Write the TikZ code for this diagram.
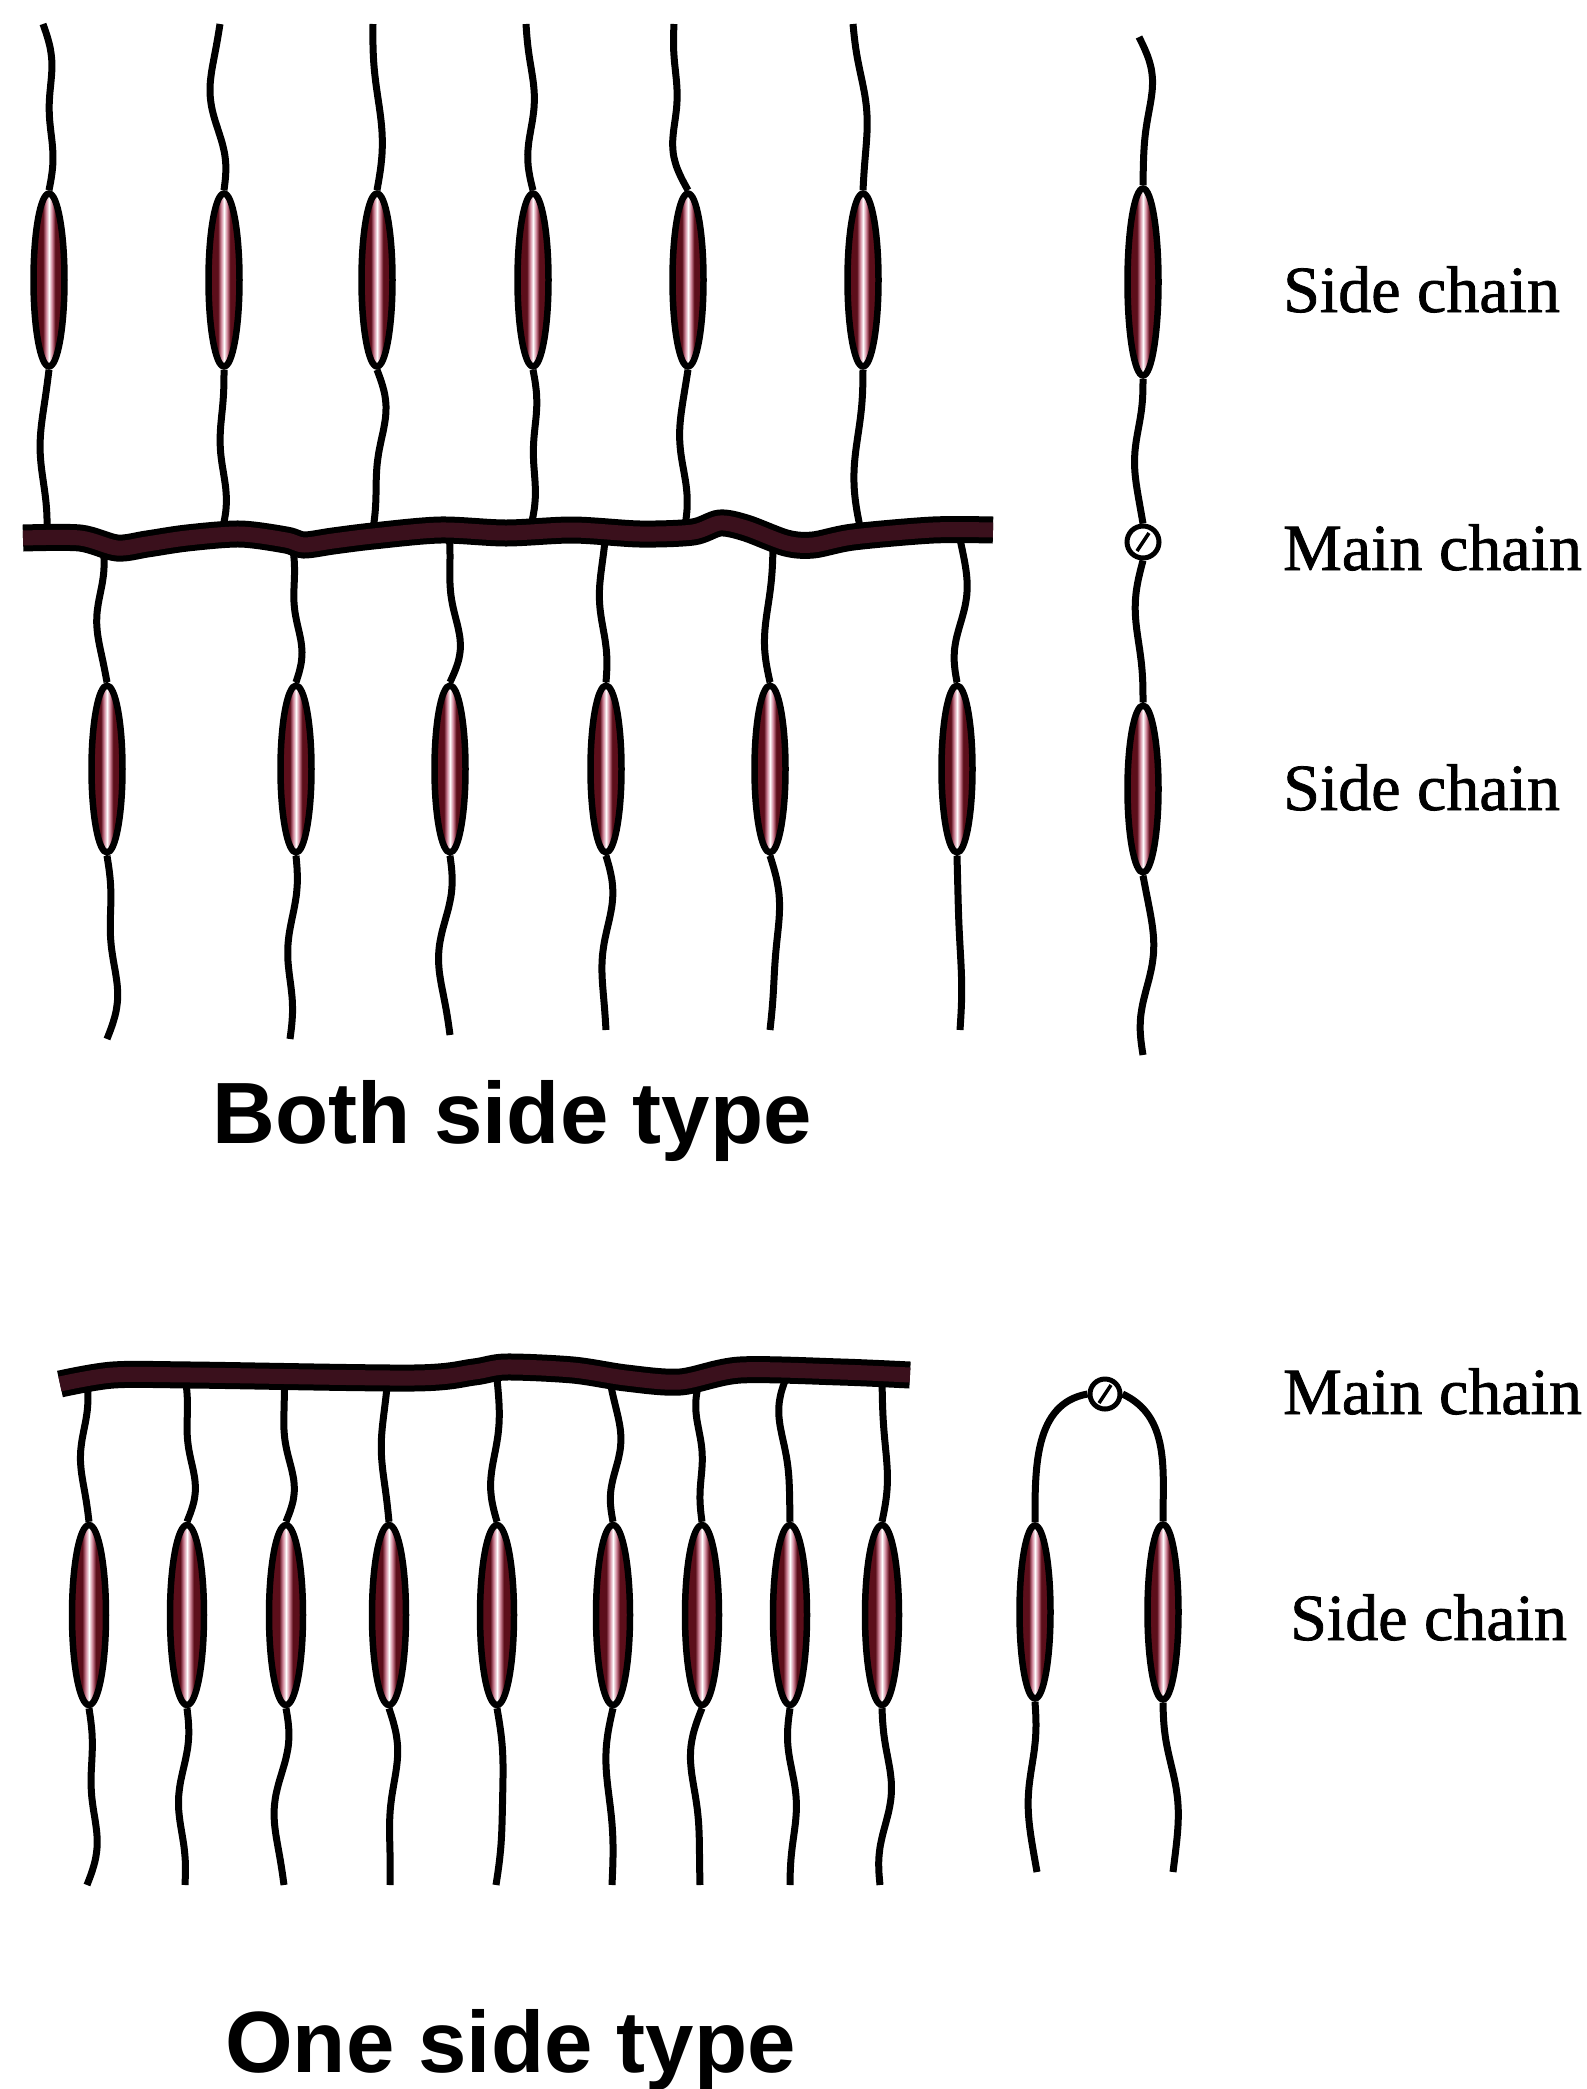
\documentclass[tikz,border=0pt]{standalone}
\usepackage{fontspec}
\setmainfont{Liberation Serif}
\newfontfamily\legendfont{Liberation Serif}[FakeBold=1.2]
\newfontfamily\headfont{Liberation Sans}
\usetikzlibrary{shapes.geometric,calc}
\definecolor{meso}{RGB}{92,14,26}
\definecolor{mesolight}{RGB}{205,130,150}
\definecolor{backbone}{RGB}{58,16,28}
% dark red rod with a bright streak along its axis
\pgfdeclarehorizontalshading{mesoshade}{100bp}{
  color(0bp)=(black); color(30bp)=(meso); color(40bp)=(meso);
  color(45bp)=(mesolight); color(50bp)=(white); color(55bp)=(mesolight);
  color(60bp)=(meso); color(70bp)=(meso); color(100bp)=(black)}
\begin{document}
\begin{tikzpicture}[x=1pt,y=-1pt,
  chain/.style={line width=7pt, draw=black, line cap=butt, line join=round},
  wig/.style n args={3}{to path={let \p1=(\tikztostart), \p2=(\tikztotarget) in
      plot[smooth, domain=0:1, samples=15, variable=\t]
      ({\x1+(\x2-\x1)*\t+(#1)*sin(180*\t)+(#2)*sin(360*\t)+(#3)*sin(540*\t)},
       {\y1+(\y2-\y1)*\t})}},
  mesogen/.style={ellipse, draw=black, line width=6.5pt, inner sep=0pt,
      minimum width=31pt, minimum height=#1, shading=mesoshade},
  joint/.style={circle, draw=black, line width=5pt, fill=white, inner sep=0pt,
      minimum size=32pt,
      path picture={\draw[line width=3.5pt]
        ([xshift=-6pt,yshift=-9pt]path picture bounding box.center) --
        ([xshift=6pt,yshift=9pt]path picture bounding box.center);}},
  backbonestyle/.style={line width=15pt, draw=backbone, line cap=butt, line join=round,
      preaction={draw=black, line width=27pt}},
  legendtext/.style={anchor=base west, inner sep=0pt, font=\legendfont\fontsize{66}{70}\selectfont},
  heading/.style={anchor=base west, inner sep=0pt, font=\headfont\bfseries\fontsize{87}{90}\selectfont},
]
\useasboundingbox (0,0) rectangle (1587,2089);

% ---------- both side type: side chains above the backbone ----------
\foreach \cx/\tx/\ax/\ay [count=\k] in
   {49/43/47/538, 224/220/221/535, 377/373/372/536,
    533/526/530/530, 688/674/684/532, 863/853/862/536} {
  \pgfmathsetmacro\amA{8*sin(\k*131)}
  \pgfmathsetmacro\amB{5*cos(\k*77)}
  \pgfmathsetmacro\amC{3*sin(\k*53+20)}
  \pgfmathsetmacro\amD{-7*sin(\k*71+40)}
  \pgfmathsetmacro\amE{4*cos(\k*113)}
  \pgfmathsetmacro\amF{2.5*sin(\k*29)}
  \coordinate (ut\k) at (\tx,24);
  \coordinate (ua\k) at (\ax,\ay);
  \node[mesogen=173pt] (um\k) at (\cx,280) {};
  \draw[chain] (ut\k) to[wig={\amA pt}{\amB pt}{\amC pt}] (um\k.north)
               (um\k.south) to[wig={\amD pt}{\amE pt}{\amF pt}] (ua\k);
}

% ---------- both side type: side chains below the backbone ----------
\foreach \cx/\ax/\ay/\bx/\by [count=\k] in
   {107/103/545/107/1039, 296/292/542/290/1039, 450/449/530/450/1035,
    606/606/532/606/1030, 770/773/540/770/1030, 957/958/530/960/1030} {
  \pgfmathsetmacro\amA{-7*sin(\k*97+15)}
  \pgfmathsetmacro\amB{5*cos(\k*61)}
  \pgfmathsetmacro\amC{2.5*sin(\k*37)}
  \pgfmathsetmacro\amD{8*sin(\k*83+30)}
  \pgfmathsetmacro\amE{-5*cos(\k*47)}
  \pgfmathsetmacro\amF{3*sin(\k*19+60)}
  \coordinate (da\k) at (\ax,\ay);
  \coordinate (db\k) at (\bx,\by);
  \node[mesogen=167pt] (dm\k) at (\cx,769) {};
  \draw[chain] (da\k) to[wig={\amA pt}{\amB pt}{\amC pt}] (dm\k.north)
               (dm\k.south) to[wig={\amD pt}{\amE pt}{\amF pt}] (db\k);
}

% backbone of the both side type
\draw[backbonestyle] plot[smooth, tension=0.5] coordinates {
  (23,538) (80,538) (117,548) (147,544) (187,538) (240,534) (286,540)
  (304,545) (333,541) (373,536) (440,530) (506,533) (573,530) (640,534)
  (693,532) (720,523) (746,528) (786,543) (813,545) (853,537) (933,530) (993,530)};

% ---------- single molecule, both side type ----------
\coordinate (rt) at (1139,37);
\node[mesogen=187pt] (rm1) at (1143,282) {};
\node[joint] (rj) at (1143,542) {};
\node[mesogen=167pt] (rm2) at (1143,789) {};
\coordinate (rb) at (1143,1055);
\draw[chain] (rt) to[wig={9pt}{5pt}{1pt}] (rm1.north)
             (rm1.south) to[wig={-7pt}{2pt}{1pt}] (rj.north)
             (rj.south) to[wig={-6pt}{-3pt}{0pt}] (rm2.north)
             (rm2.south) to[wig={7pt}{5pt}{-2pt}] (rb);

\node[legendtext] (lab1) at (1283,312) {Side chain};
\node[legendtext] (lab2) at (1283,570) {Main chain};
\node[legendtext] (lab3) at (1283,810) {Side chain};

\node[heading] (head1) at (212,1143) {Both side type};

% ---------- one side type: side chains hanging from the backbone ----------
\foreach \ax/\ay/\cx/\bx [count=\k] in
   {87/1380/89/87, 185/1375/187/185, 284/1377/286/284, 388/1377/389/390,
    496/1369/497/496, 609/1376/613/612, 700/1378/702/700, 789/1371/790/790,
    882/1374/882/880} {
  \pgfmathsetmacro\amA{-7*sin(\k*101+25)}
  \pgfmathsetmacro\amB{5*cos(\k*67)}
  \pgfmathsetmacro\amC{2.5*sin(\k*41)}
  \pgfmathsetmacro\amD{8*sin(\k*89+35)}
  \pgfmathsetmacro\amE{-5*cos(\k*53)}
  \pgfmathsetmacro\amF{3*sin(\k*23+50)}
  \coordinate (ba\k) at (\ax,\ay);
  \coordinate (bb\k) at (\bx,1885);
  \node[mesogen=180pt, minimum width=34pt] (bm\k) at (\cx,1615) {};
  \draw[chain] (ba\k) to[wig={\amA pt}{\amB pt}{\amC pt}] (bm\k.north)
               (bm\k.south) to[wig={\amD pt}{\amE pt}{\amF pt}] (bb\k);
}

% backbone of the one side type
\draw[backbonestyle] plot[smooth, tension=0.5] coordinates {
  (60,1384) (113,1375) (192,1375) (413,1378) (474,1372) (506,1367)
  (573,1370) (626,1378) (680,1382) (740,1370) (841,1372) (910,1375)};

% ---------- single molecule, one side type (hairpin) ----------
\node[joint, minimum size=30pt] (hj) at (1105,1394) {};
\node[mesogen=173pt] (hl) at (1035,1612) {};
\node[mesogen=175pt] (hr) at (1163,1612) {};
\coordinate (hlb) at (1037,1872);
\coordinate (hrb) at (1173,1872);
\draw[chain] (hj.west) to[out=190,in=90] (hl.north)
             (hj.east) to[out=-25,in=90] (hr.north)
             (hl.south) to[wig={-6pt}{3pt}{1pt}] (hlb)
             (hr.south) to[wig={7pt}{-3pt}{-1pt}] (hrb);

\node[legendtext] (lab4) at (1283,1414) {Main chain};
\node[legendtext] (lab5) at (1290,1640) {Side chain};

\node[heading] (head2) at (225,2072) {One side type};
\end{tikzpicture}
\end{document}
